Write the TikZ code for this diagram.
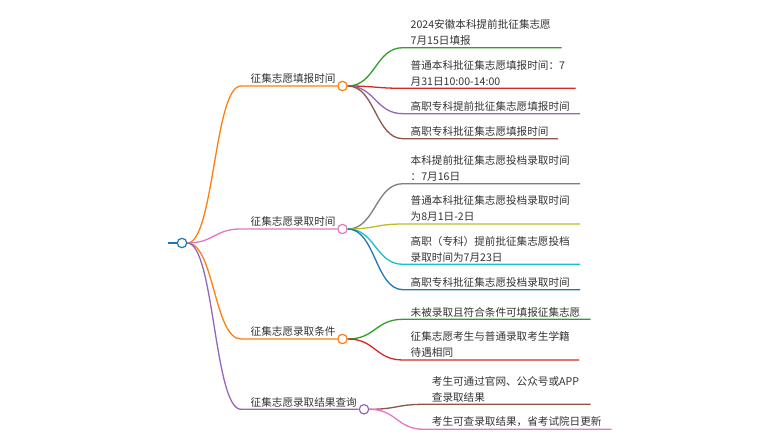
\documentclass[tikz,border=0pt]{standalone}
\usepackage{fontspec}
\newfontfamily\cjk{Noto Sans CJK SC}
\usetikzlibrary{calc}
\definecolor{tblue}{HTML}{1F77B4}
\definecolor{torange}{HTML}{FF7F0E}
\definecolor{tgreen}{HTML}{2CA02C}
\definecolor{tred}{HTML}{D62728}
\definecolor{tpurple}{HTML}{9467BD}
\definecolor{tbrown}{HTML}{8C564B}
\definecolor{tpink}{HTML}{E377C2}
\definecolor{tgray}{HTML}{7F7F7F}
\definecolor{tolive}{HTML}{BCBD22}
\definecolor{tcyan}{HTML}{17BECF}
\definecolor{txt}{HTML}{333333}
\newcommand\mmlink[4]{\draw[#1] let \p1=(#2), \p2=(#3) in (\p1) .. controls ({0.5*\x1+0.5*\x2},\y1) and ({0.5*\x1+0.5*\x2},\y2) .. (\p2) -- (#4);}
\begin{document}
\begin{tikzpicture}[x=1pt,y=-1pt,
  link/.style={line width=1.3pt},
  dot/.style={circle,draw=#1,fill=white,line width=1.2pt,minimum size=9.4pt,inner sep=0pt},
  lbl/.style={anchor=south west,inner sep=0pt,text=txt,font=\cjk\fontsize{10.6}{16}\selectfont},
  leaf/.style={anchor=south west,inner sep=0pt,align=left,text=txt,font=\cjk\fontsize{10.6}{16}\selectfont}]
\useasboundingbox[fill=white] (0,0) rectangle (780,441);
% root
\node[dot=tblue] (root) at (182,243) {};
\coordinate (rin) at (168,243);
\draw[tblue,line width=1.5pt] (rin) -- (root.west);
% level 1
\node[dot=torange] (c1) at (342.5,86) {};
\node[dot=tpink] (c2) at (342.5,229) {};
\node[dot=torange] (c3) at (342.5,339) {};
\node[dot=tpurple] (c4) at (364,409.3) {};
\coordinate (s1) at (241,86);
\coordinate (s2) at (241,229);
\coordinate (s3) at (241,339);
\coordinate (s4) at (241,409.3);
\mmlink{link,torange}{root.east}{s1}{c1.west}
\mmlink{link,tpink}{root.east}{s2}{c2.west}
\mmlink{link,torange}{root.east}{s3}{c3.west}
\mmlink{link,tpurple}{root.east}{s4}{c4.west}
\node[lbl] (n1) at (250.5,84) {征集志愿填报时间};
\node[lbl] (n2) at (250.5,227) {征集志愿录取时间};
\node[lbl] (n3) at (250.5,337) {征集志愿录取条件};
\node[lbl] (n4) at (250.5,407.3) {征集志愿录取结果查询};
% group 1
\coordinate (a1) at (403,47.7);  \coordinate (b1) at (561.7,47.7);
\coordinate (a2) at (403,88.3);  \coordinate (b2) at (575.7,88.3);
\coordinate (a3) at (403,113.7); \coordinate (b3) at (580,113.7);
\coordinate (a4) at (403,138.7); \coordinate (b4) at (558,138.7);
\mmlink{link,tgreen}{c1.east}{a1}{b1}
\mmlink{link,tred}{c1.east}{a2}{b2}
\mmlink{link,tpurple}{c1.east}{a3}{b3}
\mmlink{link,tbrown}{c1.east}{a4}{b4}
\node[leaf] (t1) at (410.5,45.7) {2024安徽本科提前批征集志愿\\7月15日填报};
\node[leaf] (t2) at (410.5,86.3) {普通本科批征集志愿填报时间：7\\月31日10:00-14:00};
\node[leaf] (t3) at (410.5,111.7) {高职专科提前批征集志愿填报时间};
\node[leaf] (t4) at (410.5,136.7) {高职专科批征集志愿填报时间};
% group 2
\coordinate (a5) at (403,183.7); \coordinate (b5) at (580,183.7);
\coordinate (a6) at (403,224);   \coordinate (b6) at (580,224);
\coordinate (a7) at (403,264.3); \coordinate (b7) at (580,264.3);
\coordinate (a8) at (403,289.7); \coordinate (b8) at (580,289.7);
\mmlink{link,tgray}{c2.east}{a5}{b5}
\mmlink{link,tolive}{c2.east}{a6}{b6}
\mmlink{link,tcyan}{c2.east}{a7}{b7}
\mmlink{link,tblue}{c2.east}{a8}{b8}
\node[leaf] (t5) at (410.5,181.7) {本科提前批征集志愿投档录取时间\\：7月16日};
\node[leaf] (t6) at (410.5,222) {普通本科批征集志愿投档录取时间\\为8月1日-2日};
\node[leaf] (t7) at (410.5,262.3) {高职（专科）提前批征集志愿投档\\录取时间为7月23日};
\node[leaf] (t8) at (410.5,287.7) {高职专科批征集志愿投档录取时间};
% group 3
\coordinate (a9) at (403,319.3);  \coordinate (b9) at (590.7,319.3);
\coordinate (a10) at (403,360);   \coordinate (b10) at (579,360);
\mmlink{link,tgreen}{c3.east}{a9}{b9}
\mmlink{link,tred}{c3.east}{a10}{b10}
\node[leaf] (t9) at (410.5,317.3) {未被录取且符合条件可填报征集志愿};
\node[leaf] (t10) at (410.5,358) {征集志愿考生与普通录取考生学籍\\待遇相同};
% group 4
\coordinate (a11) at (424,404.3); \coordinate (b11) at (590.7,404.3);
\coordinate (a12) at (424,429.3); \coordinate (b12) at (611.7,429.3);
\mmlink{link,tbrown}{c4.east}{a11}{b11}
\mmlink{link,tpink}{c4.east}{a12}{b12}
\node[leaf] (t11) at (431.7,402.3) {考生可通过官网、公众号或APP\\查录取结果};
\node[leaf] (t12) at (431.7,427.3) {考生可查录取结果，省考试院日更新};
\end{tikzpicture}
\end{document}
